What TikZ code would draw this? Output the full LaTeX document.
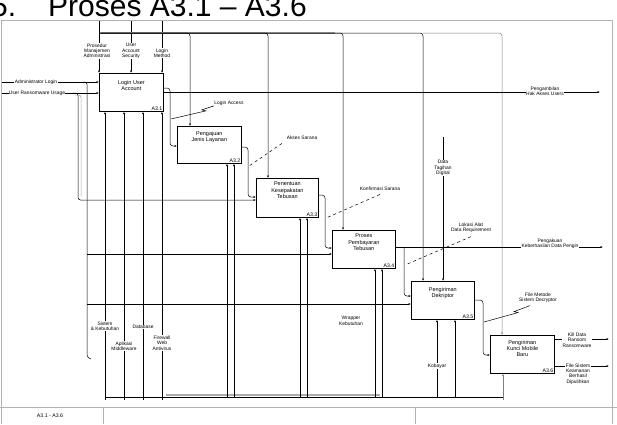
\documentclass[tikz,border=0pt]{standalone}
\usepackage{fontspec}
\setmainfont{Liberation Sans}
\usetikzlibrary{arrows.meta}
\begin{document}
\begin{tikzpicture}[x=1pt,y=-1pt,
  proc/.style={draw, line width=0.7pt, inner sep=0pt, anchor=north west},
  lbl/.style={font=\fontsize{4.9}{5.4}\selectfont, align=center, inner sep=0.4pt},
  wlbl/.style={lbl, fill=white},
  arr/.style={-{Latex[length=2.4pt,width=2pt]}, line width=0.5pt},
  ln/.style={line width=0.5pt},
  btxt/.style={font=\fontsize{5.5}{6.4}\selectfont, align=center, inner sep=0pt, anchor=north},
  bnum/.style={font=\fontsize{5.2}{5.2}\selectfont, inner sep=1.2pt, anchor=south east},
  bus/.style={line width=2.6pt, gray!65},
  frame/.style={gray!60, line width=0.8pt}]
\useasboundingbox (0,0) rectangle (617,424);

% title
\node[anchor=base west, inner sep=0, font=\fontsize{30}{30}\selectfont] (title) at (-9,16.5) {5.\hspace{32pt}Proses A3.1 – A3.6};

% frame and title block
\draw[frame] (1,20) -- (612,20) -- (612,424);
\draw[frame] (1,20) -- (1,424);
\draw[frame] (0,407) -- (617,407);
\draw[frame] (103,407) -- (103,424);
\draw[frame] (415,407) -- (415,424);
\node[lbl, font=\fontsize{5.2}{5.2}\selectfont] (blk) at (50,416) {A3.1 - A3.6};

% boxes
\node[proc, minimum width=64pt, minimum height=38pt] (b1) at (99,73) {};
\node[proc, minimum width=64pt, minimum height=37pt] (b2) at (177,126) {};
\node[proc, minimum width=62pt, minimum height=39pt] (b3) at (256,178) {};
\node[proc, minimum width=63pt, minimum height=38pt] (b4) at (332,230) {};
\node[proc, minimum width=63pt, minimum height=38pt] (b5) at (411,281) {};
\node[proc, minimum width=64pt, minimum height=38pt] (b6) at (490,335) {};
\node[btxt] (t1) at ([yshift=-7pt]b1.north) {Login User\\Account};
\node[btxt] (t2) at ([yshift=-5pt]b2.north) {Pengajuan\\Jenis Layanan};
\node[btxt] (t3) at ([yshift=-4pt]b3.north) {Penentuan\\Kesepakatan\\Tebusan};
\node[btxt] (t4) at ([yshift=-4pt]b4.north) {Proses\\Pembayaran\\Tebusan};
\node[btxt] (t5) at ([yshift=-6pt]b5.north) {Pengiriman\\Dekriptor};
\node[btxt] (t6) at ([yshift=-5pt]b6.north) {Pengiriman\\Kunci Mobile\\Baru};
\node[bnum] (n1) at (b1.south east) {A3.1};
\node[bnum] (n2) at (b2.south east) {A3.2};
\node[bnum] (n3) at (b3.south east) {A3.3};
\node[bnum] (n4) at (b4.south east) {A3.4};
\node[bnum] (n5) at (b5.south east) {A3.5};
\node[bnum] (n6) at (b6.south east) {A3.6};

% controls of A3.1
\coordinate (c1t) at (99,21);
\coordinate (c2t) at (131,21);
\coordinate (c3t) at (162,21);
\node[lbl, anchor=north] (cl1) at (97,43) {Prosedur\\Manajemen\\Administrasi};
\node[lbl, anchor=north] (cl2) at (131,43) {User\\Account\\Security};
\node[lbl, anchor=north] (cl3) at (162,48) {Login\\Method};
\draw[ln] (c1t) -- (cl1.north -| c1t);
\draw[arr] (cl1.south -| c1t) -- (b1.north -| c1t);
\draw[ln] (c2t) -- (cl2.north -| c2t);
\draw[arr] (cl2.south -| c2t) -- (b1.north -| c2t);
\draw[ln] (c3t) -- (cl3.north -| c3t);
\draw[arr] (cl3.south -| c3t) -- (b1.north -| c3t);

% top control bus
\coordinate (bus0) at (99,33);
\coordinate (d2) at (190,33);
\coordinate (d3) at (268,33);
\coordinate (d4) at (343,33);
\coordinate (d5) at (423,33);
\coordinate (d6) at (502,33);
\draw[bus] (101,33) -- (335,33);
\draw[arr, rounded corners=3pt] (bus0) -| (b2.north -| d2);
\draw[arr, rounded corners=3pt] (bus0) -| (b3.north -| d3);
\draw[arr, rounded corners=3pt] (bus0) -| (b4.north -| d4);
\draw[arr, rounded corners=3pt] (bus0) -| (b5.north -| d5);
\draw[arr, gray, rounded corners=3pt] (d5) -| (b6.north -| d6);

% Data Tagihan Digital
\coordinate (dt) at (443,137);
\node[lbl, anchor=north] (dtl) at (443,160) {Data\\Tagihan\\Digital};
\draw[ln] (dt) -- (dtl.north);
\draw[arr] (dtl.south) -- (b5.north -| dtl.south);

% inputs
\coordinate (i1) at (2,82);
\coordinate (i2) at (2,93);
\draw[arr] (i1) -- (b1.west |- i1);
\draw[arr] (i2) -- (b1.west |- i2);
\node[wlbl] (il1) at (36,82) {Administrator Login};
\node[wlbl] (il2) at (37,93) {User Ransomware Usage};
\coordinate (h3) at (78,200);
\coordinate (h4) at (87,254);
\coordinate (h5) at (87,304);
\draw[arr, rounded corners=2.5pt] (73,93) -| (h3) -- (b3.west |- h3);
\draw[ln, gray!70, rounded corners=2.5pt] (75,95) -| (81,197);
\draw[ln, rounded corners=2.5pt] (83,82) -| (87,357) -- (91,359);
\draw[arr] (h4) -- (b4.west |- h4);
\draw[arr] (h5) -- (b5.west |- h5);

% A3.1 -> A3.2
\coordinate (k1a) at (170,88);
\coordinate (k1b) at (170,146);
\draw[arr, rounded corners=3pt] (b1.east |- k1a) -- (k1a) -- (k1b) -- (b2.west |- k1b);
\node[lbl] (la1) at (229,103) {Login Access};
\coordinate (la1e) at (171,119);
\draw[ln] (la1.south west) -- ++(-12,4) -- ++(4,1) -- (la1e);

% A3.2 -> A3.3
\coordinate (k2a) at (248,147);
\coordinate (k2b) at (248,197);
\draw[arr, rounded corners=3pt] (b2.east |- k2a) -- (k2a) -- (k2b) -- (b3.west |- k2b);
\node[lbl] (la2) at (302,138) {Akses Sarana};
\coordinate (la2e) at (249,166);
\draw[ln, dashed] ([xshift=-20pt,yshift=-3pt]la2.south) -- (la2e);

% A3.3 -> A3.4
\coordinate (k3a) at (325,195);
\coordinate (k3b) at (325,248);
\draw[arr, rounded corners=3pt] (b3.east |- k3a) -- (k3a) -- (k3b) -- (b4.west |- k3b);
\node[lbl] (la3) at (380,189) {Konfirmasi Sarana};
\coordinate (la3e) at (326,218);
\draw[ln, dashed] ([yshift=-3pt]la3.south) -- (la3e);

% A3.4 outputs
\coordinate (o4) at (603,247);
\draw[arr] (b4.east |- o4) -- (o4);
\node[wlbl] (lo4) at (550,244) {Pengakuan\\Keberhasilan Data Pengin};
\coordinate (k4a) at (404,247);
\coordinate (k4b) at (404,296);
\draw[arr, rounded corners=3pt] (k4a) -- (k4b) -- (b5.west |- k4b);
\node[lbl] (la4) at (471,228) {Lokasi Alat\\Data Requirement};
\coordinate (la4e) at (405,265);
\draw[ln, dashed] ([yshift=-3pt]la4.south) -- (la4e);

% A3.5 -> A3.6
\coordinate (k5a) at (483,300);
\coordinate (k5b) at (483,355);
\draw[arr, rounded corners=3pt] (b5.east |- k5a) -- (k5a) -- (k5b) -- (b6.west |- k5b);
\node[lbl] (la5) at (538,298) {File Metode\\Sistem Decryptor};
\coordinate (la5e) at (484,322);
\draw[ln] ([xshift=-8pt,yshift=-2pt]la5.south) -- ++(-16,6) -- ++(4,1) -- (la5e);

% A3.1 output
\coordinate (o1) at (600,92);
\draw[arr] (b1.east |- o1) -- (o1);
\node[wlbl] (ol1) at (545,91) {Pengambilan\\Hak Akses Users};

% A3.6 outputs
\coordinate (o6a) at (609,339);
\coordinate (o6b) at (609,366);
\draw[arr] (b6.east |- o6a) -- (o6a);
\draw[arr] (b6.east |- o6b) -- (o6b);
\node[wlbl] (lo6a) at (577,340) {Kill Data\\Ransom\\Ransomware};
\node[wlbl] (lo6b) at (578,374) {File Sistem\\Keamanan\\Berhasil\\Dipulihkan};

% bottom mechanism bus
\draw[bus] (166,395) -- (380,395);
\draw[ln] (105,397) -- (503,397);
\coordinate (m11) at (105,400);
\coordinate (m12) at (124,400);
\coordinate (m13) at (143,400);
\coordinate (m14) at (162,400);
\draw[arr] (m11) -- (b1.south -| m11);
\draw[arr] (m12) -- (b1.south -| m12);
\draw[arr] (m13) -- (b1.south -| m13);
\draw[arr] (m14) -- (b1.south -| m14);
\coordinate (m21) at (227,397);
\coordinate (m22) at (234,397);
\coordinate (m31) at (300,397);
\coordinate (m32) at (307,397);
\coordinate (m41) at (375,397);
\coordinate (m42) at (382,397);
\coordinate (m51) at (437,397);
\coordinate (m52) at (455,397);
\coordinate (m61) at (503,400);
\draw[arr] (m21) -- (b2.south -| m21);
\draw[arr] (m22) -- (b2.south -| m22);
\draw[arr] (m31) -- (b3.south -| m31);
\draw[arr] (m32) -- (b3.south -| m32);
\draw[arr] (m41) -- (b4.south -| m41);
\draw[arr] (m42) -- (b4.south -| m42);
\draw[arr] (m51) -- (b5.south -| m51);
\draw[arr] (m52) -- (b5.south -| m52);
\draw[arr, gray] (m61) -- (b6.south -| m61);

% mechanism labels
\node[wlbl] (ml1) at (105,326) {Sistem\\\& Kebutuhan};
\node[wlbl] (ml2) at (124,346) {Aplikasi\\Middleware};
\node[wlbl] (ml3) at (143,327) {Database};
\node[wlbl] (ml4) at (162,343) {Firewall\\Web\\Antivirus};
\node[lbl] (ml5) at (351,321) {Wrapper\\Kebutuhan};
\node[wlbl] (ml6) at (437,366) {Kobayar};
\end{tikzpicture}
\end{document}
